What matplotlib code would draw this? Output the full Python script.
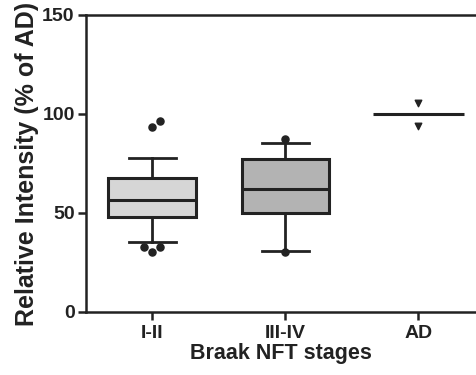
import matplotlib.pyplot as plt

plt.rcParams['font.family'] = ['Liberation Sans', 'DejaVu Sans']
plt.rcParams['font.weight'] = 'bold'

groups = ["I-II", "III-IV", "AD"]
q1 = [47.8, 49.8]
medians = [56.6, 62.0]
q3 = [67.8, 77.3]
whisk_lo = [35.5, 31.0]
whisk_hi = [77.9, 85.2]
box_colors = ["#d6d6d6", "#b3b3b3"]

# outlying points: group index, value, small horizontal spread as drawn
flier_group = [0, 0, 0, 0, 0, 1, 1]
flier_vals = [93.4, 96.5, 32.8, 32.8, 30.3, 87.4, 30.5]
flier_spread = [0.0, 0.06, -0.06, 0.06, 0.0, 0.0, 0.0]

ad_mean = 100
ad_points = [105.4, 94.1]

fig = plt.figure(figsize=(4.77, 3.75), dpi=100)
ax = fig.add_axes([0.180, 0.168, 0.82, 0.792])

stats = []
for i in range(2):
    stats.append({"med": medians[i], "q1": q1[i], "q3": q3[i],
                  "whislo": whisk_lo[i], "whishi": whisk_hi[i],
                  "fliers": []})

bp = ax.bxp(stats, positions=[1, 2], widths=0.66, patch_artist=True,
            boxprops=dict(linewidth=2.2, edgecolor="#222222"),
            medianprops=dict(color="#222222", linewidth=2.2),
            whiskerprops=dict(color="#222222", linewidth=2),
            capprops=dict(color="#222222", linewidth=2),
            capwidths=0.35)
for patch, c in zip(bp["boxes"], box_colors):
    patch.set_facecolor(c)

fx = [g + 1 + d for g, d in zip(flier_group, flier_spread)]
ax.scatter(fx, flier_vals, marker="o", s=26, color="#222222", zorder=3)

# AD group: single line plus two points
ax.hlines(ad_mean, 3 - 0.34, 3 + 0.34, color="#222222", linewidth=2.2)
ax.scatter([3] * len(ad_points), ad_points, marker="v", s=22,
           color="#222222", zorder=3)

ax.set_xlim(0.5, 3.44)
ax.set_ylim(0, 150)
ax.set_yticks([0, 50, 100, 150])
ax.set_xticks([1, 2, 3])
ax.set_xticklabels(groups)

for s in ["left", "bottom", "top"]:
    ax.spines[s].set_linewidth(1.8)
    ax.spines[s].set_color("#222222")
ax.spines["right"].set_visible(False)

ax.tick_params(axis="both", direction="out", length=6, width=1.8,
               color="#222222", labelsize=14, labelcolor="#222222")
ax.tick_params(axis="y", pad=2)
ax.tick_params(axis="x", pad=3)

ax.set_ylabel("Relative Intensity (% of AD)", fontsize=18,
              fontweight="bold", color="#222222", labelpad=2)
ax.set_xlabel("Braak NFT stages", fontsize=15.5, fontweight="bold",
              color="#222222", labelpad=1)

fig.savefig("out.png", dpi=100)
